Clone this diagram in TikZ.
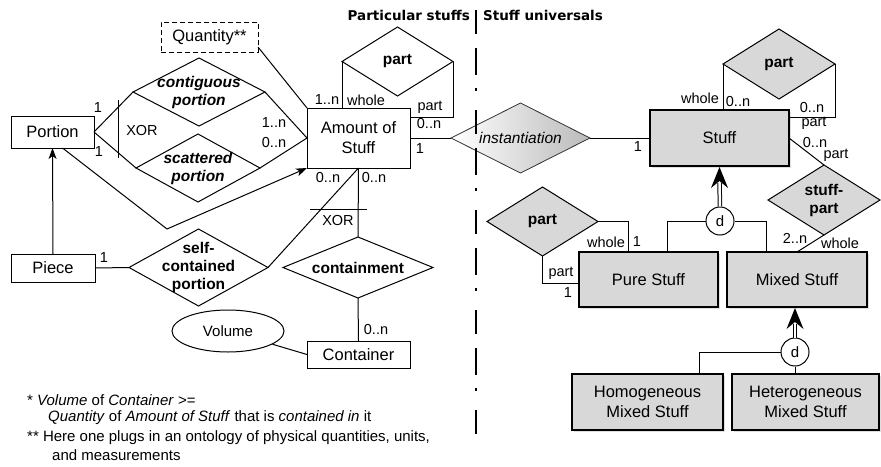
\documentclass[tikz,border=0pt]{standalone}
\usepackage{fontspec}
\setmainfont{Liberation Sans}
\newfontfamily\headfont{DejaVu Sans}
\usetikzlibrary{shapes.geometric,arrows.meta,shadows,calc}
\definecolor{boxgray}{RGB}{216,216,216}
\begin{document}
\begin{tikzpicture}[x=1pt,y=-1pt,
  ent/.style={draw,line width=1pt,rectangle,inner sep=0pt,outer sep=0pt,font=\fontsize{16.5}{20}\selectfont,align=center},
  gent/.style={ent,fill=boxgray,line width=1.3pt,drop shadow={shadow xshift=1.8pt,shadow yshift=-1.8pt,opacity=0.25}},
  rel/.style={draw,diamond,line width=1pt,inner sep=0pt,outer sep=0pt},
  grel/.style={rel,fill=boxgray},
  reltxt/.style={font=\fontsize{15.5}{18}\selectfont\bfseries,align=center,inner sep=0pt},
  reltxti/.style={font=\fontsize{15.5}{18}\selectfont\bfseries\itshape,align=center,inner sep=0pt},
  lbl/.style={font=\fontsize{14.5}{14.5}\selectfont,inner sep=0pt},
  conn/.style={line width=1pt},
  isacirc/.style={draw,circle,line width=1pt,minimum size=28pt,inner sep=0pt,fill=white,font=\fontsize{15}{15}\selectfont},
  tip/.style={-{Stealth[length=11pt,width=8pt,inset=3pt]}},
  dblshaft/.style={line width=1pt,double distance=2.5pt},
  head/.style={font=\headfont\bfseries\fontsize{13.5}{14}\selectfont,inner sep=0pt},
  foot/.style={font=\fontsize{15}{15}\selectfont,inner sep=0pt,anchor=west}
]
\useasboundingbox (0,0) rectangle (881,466);

% ---------- left side entities ----------
\node[ent,minimum width=83pt,minimum height=32pt] (portion) at (52.5,132) {Portion};
\node[ent,minimum width=84pt,minimum height=28pt] (piece) at (53,268) {Piece};
\node[ent,dash pattern=on 5pt off 3pt,minimum width=97pt,minimum height=30pt] (quant) at (209.5,37) {Quantity**};
\node[ent,minimum width=103pt,minimum height=60pt] (amount) at (358.5,138) {Amount of\\Stuff};
\node[ent,minimum width=103pt,minimum height=27pt] (container) at (358.5,354.5) {Container};
\node[draw,ellipse,line width=1pt,minimum width=112pt,minimum height=42pt,inner sep=0pt,font=\fontsize{15}{15}\selectfont] (volume) at (228,331) {Volume};

% ---------- left side relationships ----------
\node[rel,minimum width=132pt,minimum height=68pt] (contig) at (199,92) {};
\node[reltxti] (contigT) at (contig) {contiguous\\portion};
\node[rel,minimum width=124pt,minimum height=68pt] (scat) at (198,168) {};
\node[reltxti] (scatT) at (scat) {scattered\\portion};
\node[rel,minimum width=139pt,minimum height=77pt] (selfc) at (198.5,267.5) {};
\node[reltxt] (selfcT) at (selfc) {self-\\contained\\portion};
\node[rel,minimum width=150pt,minimum height=61pt] (contain) at (358,267.5) {};
\node[reltxt] (containT) at (contain) {containment};
\node[rel,minimum width=111pt,minimum height=69pt] (partA) at (397.5,61.5) {};
\node[reltxt] (partAT) at (partA) {part};

% ---------- right side entities ----------
\node[gent,minimum width=139pt,minimum height=56pt] (stuff) at (719.5,138) {Stuff};
\node[gent,minimum width=139pt,minimum height=55pt] (pure) at (648.5,279.5) {Pure Stuff};
\node[gent,minimum width=140pt,minimum height=55pt] (mixed) at (797,279.5) {Mixed Stuff};
\node[gent,minimum width=151pt,minimum height=56pt] (homog) at (647.5,402) {Homogeneous\\Mixed Stuff};
\node[gent,minimum width=147pt,minimum height=56pt] (heterog) at (805.5,402) {Heterogeneous\\Mixed Stuff};

% ---------- right side relationships ----------
\node[rel,line width=0.8pt,draw=black!80,minimum width=139pt,minimum height=70pt,shading=axis,left color=white,right color=black!27] (inst) at (520.5,138) {};
\node[font=\fontsize{15.5}{18}\selectfont\itshape,inner sep=0pt] (instT) at (inst) {instantiation};
\node[grel,minimum width=112pt,minimum height=70pt] (partS) at (779,64) {};
\node[reltxt] (partST) at (partS) {part};
\node[grel,minimum width=112pt,minimum height=70pt] (spart) at (824,200) {};
\node[reltxt] (spartT) at (spart) {stuff-\\part};
\node[grel,minimum width=111pt,minimum height=69pt] (partP) at (542.5,221.5) {};
\node[reltxt] (partPT) at (partP) {part};

\node[isacirc] (d1) at (720,221) {d};
\node[isacirc] (d2) at (795,352) {d};

% ---------- left connectors ----------
\draw[conn] (portion.east) -- (contig.west);
\draw[conn] (portion.east) -- (scat.west);
\draw[conn] (contig.east) -- (amount.west);
\draw[conn] (scat.east) -- (amount.west);
\coordinate (xorT) at (118,100);
\coordinate (xorB) at (118,158);
\draw[conn] (xorT) -- (xorB);
\node[lbl] (xorL) at (142,131) {XOR};
\draw[conn] ([yshift=-10pt]quant.east) -- (amount.north west);
\coordinate (bend) at (167,229);
\draw[conn,tip] ([xshift=10pt]portion.south) -- (bend) -- (amount.south west);
\draw[conn,tip] (piece.north) -- (portion.south);
\draw[conn] (piece.east) -- (selfc.west);
\draw[conn] (selfc.east) -- (amount.south);
\draw[conn] (amount.south) -- (contain.north);
\coordinate (xor2L) at (310,209);
\coordinate (xor2R) at (367,209);
\draw[conn] (xor2L) -- (xor2R);
\node[lbl] (xor2) at (338,221) {XOR};
\draw[conn] (contain.south) -- (container.north);
\draw[conn] (volume) -- (container.west);
\draw[conn] (partA.west) -- (partA.west |- amount.north);
\draw[conn] (partA.east) |- ([yshift=-9pt]amount.north east);
\draw[conn] (amount.east) -- (inst.west);

% left labels
\node[lbl] (l1) at (98,108) {1};
\node[lbl] (l2) at (99,152) {1};
\node[lbl] (l3) at (274,123) {1..n};
\node[lbl] (l4) at (274,143) {0..n};
\node[lbl] (l5) at (327,100) {1..n};
\node[lbl] (l6) at (366,100) {whole};
\node[lbl] (l7) at (430,107) {part};
\node[lbl] (l8) at (429,124) {0..n};
\node[lbl] (l9) at (420,149) {1};
\node[lbl] (l10) at (328,178) {0..n};
\node[lbl] (l11) at (374,178) {0..n};
\node[lbl] (l12) at (104,258) {1};
\node[lbl] (l13) at (376,330) {0..n};

% ---------- right connectors ----------
\draw[conn] (inst.east) -- (stuff.west);
\draw[conn] (partS.west) -- (partS.west |- stuff.north);
\draw[conn] (partS.east) |- ([yshift=-7pt]stuff.north east);
\draw[conn] (stuff.east) -- (spart.north);
\draw[conn] (spart.south) -- (mixed.north);
\draw[conn] (partP.east) -| ([xshift=-20.5pt]pure.north);
\draw[conn] (partP.south) |- ([yshift=-3.5pt]pure.west);
\draw[conn] (d1.west) -| ([xshift=18.5pt]pure.north);
\draw[conn] (d1.east) -| ([xshift=-31pt]mixed.north);
% ISA arrow 1: double shaft + filled stealth head
\coordinate (t1) at ([yshift=-1pt]stuff.south);
\draw[dblshaft] (d1.north) -- ([yshift=-16pt]t1);
\fill (t1) -- ++(-8.5,21) -- ++(8.5,-7) -- ++(8.5,7) -- cycle;
% ISA arrow 2
\coordinate (t2) at ([yshift=-1pt]d2.north |- mixed.south);
\draw[dblshaft] (d2.north) -- ([yshift=-16pt]t2);
\fill (t2) -- ++(-8.5,21) -- ++(8.5,-7) -- ++(8.5,7) -- cycle;
\draw[conn] (d2.west) -| ([xshift=51.5pt]homog.north);
\draw[conn] (d2.south) -- (d2.south |- heterog.north);

% right labels
\node[lbl] (r1) at (638,147) {1};
\node[lbl] (r2) at (700,98) {whole};
\node[lbl] (r3) at (738,102) {0..n};
\node[lbl] (r4) at (812,108) {0..n};
\node[lbl] (r5) at (814,123) {part};
\node[lbl] (r6) at (815,143) {0..n};
\node[lbl] (r7) at (836,155) {part};
\node[lbl] (r8) at (795,238) {2..n};
\node[lbl] (r9) at (840,243) {whole};
\node[lbl] (r10) at (606,242) {whole};
\node[lbl] (r11) at (637,242) {1};
\node[lbl] (r12) at (561,273) {part};
\node[lbl] (r13) at (568,293) {1};

% ---------- divider and headings ----------
\coordinate (divT) at (476,10);
\coordinate (divB) at (476,434);
\draw[line width=2.6pt,dash pattern=on 24pt off 14pt on 27pt off 13pt on 3pt off 19pt] (divT) -- (divB);
\node[head,anchor=east] (ttlL) at (470,15) {Particular stuffs};
\node[head,anchor=west] (ttlR) at (483,15) {Stuff universals};

% ---------- footnotes ----------
\node[foot] (fn1) at (27,400) {* \textit{Volume} of \textit{Container} >=};
\node[foot] (fn2) at (48,418) {\textit{Quantity} of \textit{Amount of Stuff} that is \textit{contained in} it};
\node[foot] (fn3) at (27,438) {** Here one plugs in an ontology of physical quantities, units,};
\node[foot] (fn4) at (52,455) {and measurements};
\end{tikzpicture}
\end{document}
